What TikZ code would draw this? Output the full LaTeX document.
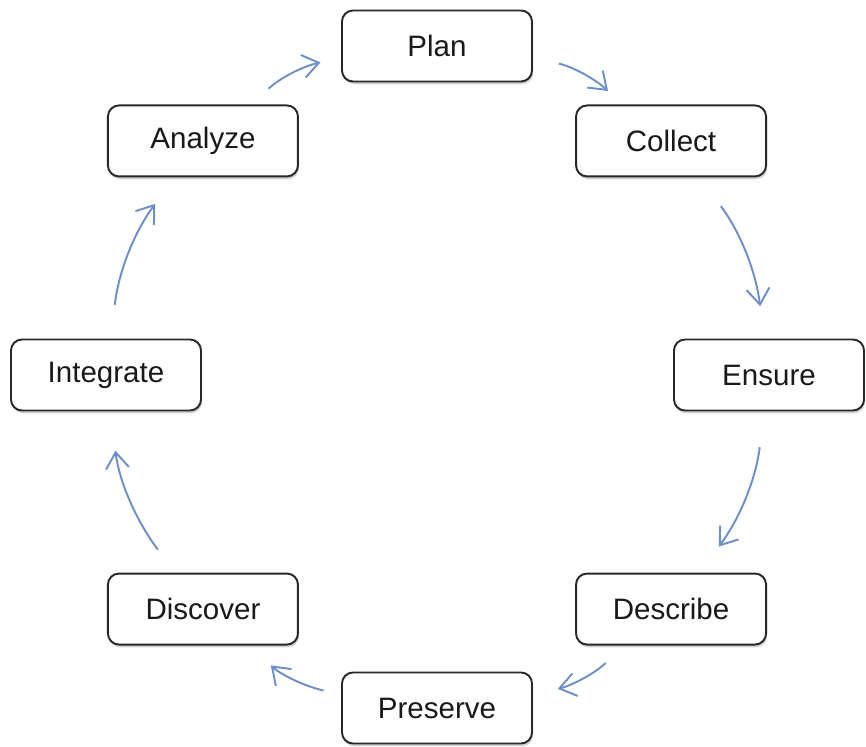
\documentclass[tikz,border=0pt]{standalone}
\usepackage{fontspec}
\setmainfont{Liberation Sans}
\usetikzlibrary{arrows.meta,shadows}
\definecolor{arrowblue}{RGB}{108,143,203}
\definecolor{boxline}{RGB}{40,40,40}
\begin{document}
\begin{tikzpicture}[
  box/.style={draw=boxline, line width=1.1pt, rounded corners=2.2mm, fill=white,
    minimum width=3.8cm, minimum height=1.42cm, text=black!90,
    font=\fontsize{16.8}{20}\selectfont,
    drop shadow={shadow xshift=0.6pt, shadow yshift=-1.6pt, opacity=0.35}},
  flow/.style={arrowblue, line width=1.1pt, -{Straight Barb[length=3.2mm,width=4.6mm]}, bend left=15}]
\useasboundingbox (-8.74,-7.42) rectangle (8.58,7.5);
\node[box] (plan) at (0,6.58) {Plan};
\node[box] (collect) at (45:6.62) {Collect};
\node[box] (ensure) at (0:6.64) {Ensure};
\node[box] (describe) at (-45:6.62) {Describe};
\node[box] (preserve) at (0,-6.66) {Preserve};
\node[box] (discover) at (-135:6.62) {Discover};
\node[box] (integrate) at (180:6.62) {Integrate};
\node[box] (analyze) at (135:6.62) {Analyze};
\draw[flow, shorten <=4.7mm, shorten >=4.2mm] (analyze) to (plan);
\draw[flow, shorten <=5.3mm, shorten >=4.0mm] (plan) to (collect);
\draw[flow, shorten <=7.2mm, shorten >=6.5mm] (collect) to (ensure);
\draw[flow, shorten <=7.2mm, shorten >=6.5mm] (ensure) to (describe);
\draw[flow, shorten <=5.1mm, shorten >=5.1mm] (describe) to (preserve);
\draw[flow, shorten <=3.6mm, shorten >=5.8mm] (preserve) to (discover);
\draw[flow, shorten <=5.7mm, shorten >=7.9mm] (discover) to (integrate);
\draw[flow, shorten <=6.8mm, shorten >=6.6mm] (integrate) to (analyze);
\end{tikzpicture}
\end{document}
